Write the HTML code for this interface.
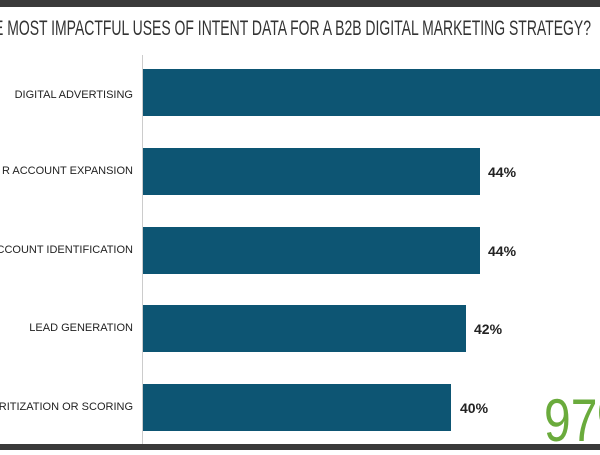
<!DOCTYPE html><html><head><style>
body{margin:0;width:600px;height:450px;overflow:hidden;background:#fff;position:relative;font-family:"Liberation Sans",sans-serif}
.t{position:absolute;left:-6px;top:17px;white-space:nowrap;font-size:21px;color:#333;transform:scaleX(0.665);transform-origin:left top;letter-spacing:0}
.bar{position:absolute;left:143px;height:47px;background:#0d5573}
.lb{position:absolute;right:467px;font-size:11px;color:#222;white-space:nowrap}
.p{position:absolute;font-size:14px;font-weight:bold;color:#222}
</style></head><body>
<div style="position:absolute;left:0;top:0;width:600px;height:7px;background:#3a3a3a"></div>
<div style="position:absolute;left:0;top:444px;width:600px;height:6px;background:#3a3a3a"></div>
<div class="t">E MOST IMPACTFUL USES OF INTENT DATA FOR A B2B DIGITAL MARKETING STRATEGY?</div>
<div style="position:absolute;left:142px;top:55px;width:1px;height:389px;background:#ccc"></div>
<div class="bar" style="top:69px;width:457px"></div>
<div class="bar" style="top:148px;width:337px"></div>
<div class="bar" style="top:227px;width:337px"></div>
<div class="bar" style="top:305px;width:323px"></div>
<div class="bar" style="top:384px;width:308px"></div>
<div class="lb" style="top:89px">DIGITAL ADVERTISING</div>
<div class="lb" style="top:165px">R ACCOUNT EXPANSION</div>
<div class="lb" style="top:244px">ACCOUNT IDENTIFICATION</div>
<div class="lb" style="top:322px">LEAD GENERATION</div>
<div class="lb" style="top:401px">ORITIZATION OR SCORING</div>
<div class="p" style="left:488px;top:164px">44%</div>
<div class="p" style="left:488px;top:243px">44%</div>
<div class="p" style="left:474px;top:321px">42%</div>
<div class="p" style="left:460px;top:400px">40%</div>
<div style="position:absolute;left:544px;top:386px;font-size:60px;color:#6aab3c;transform:scaleX(0.8);transform-origin:left top">97%</div>
</body></html>
